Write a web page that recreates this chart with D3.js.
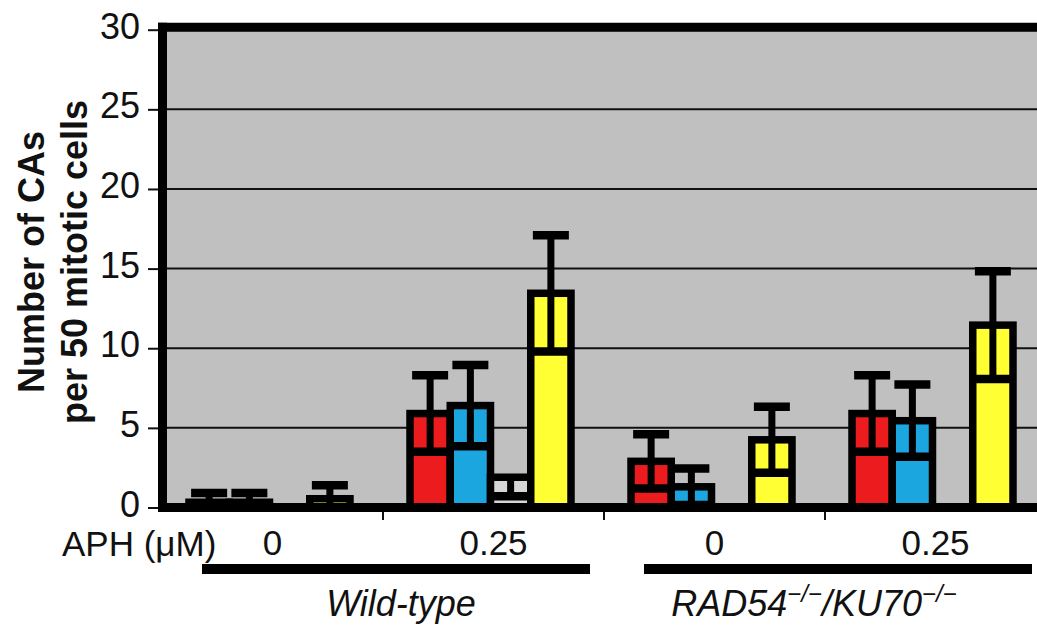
<!DOCTYPE html>
<html>
<head>
<meta charset="utf-8">
<script src="https://cdn.jsdelivr.net/npm/d3@7"></script>
<style>
  body { margin: 0; background: #fff; }
  svg { display: block; }
  text { font-family: "Liberation Sans", Arial, Helvetica, sans-serif; fill: #111; }
</style>
</head>
<body>
<svg id="chart" width="1037" height="632"></svg>
<script>
// Bar clusters: aphidicolin dose within each genotype
const clusterIds = ["wt-0", "wt-0.25", "dko-0", "dko-0.25"];
const aphDoses = ["0", "0.25", "0", "0.25"];
const genotypeNames = ["Wild-type", "RAD54/KU70"];
const genotypeClusters = [["wt-0", "wt-0.25"], ["dko-0", "dko-0.25"]];

// Aberration classes, one bar each per cluster
const seriesKeys = ["classA", "classB", "classC", "total"];

// Mean number of CAs per 50 mitotic cells and the SD of each mean
const classAMean = [0.33, 5.9, 2.9, 5.9];
const classASD   = [0.58, 2.4, 1.7, 2.4];
const classBMean = [0.33, 6.4, 1.3, 5.45];
const classBSD   = [0.58, 2.55, 1.15, 2.27];
const classCMean = [0, 1.9, 0, 0];
const classCSDDown = [0, 1.2, 0, 0];
const classCSDUp   = [0, 0, 0, 0];
const totalMean  = [0.55, 13.45, 4.25, 11.45];
const totalSD    = [0.85, 3.65, 2.07, 3.38];

const yTicks = [0, 5, 10, 15, 20, 25, 30];

// ---- styling ----
const colors = { classA: "#ec1c1e", classB: "#1ba6e0", classC: "#d6d6d6", total: "#ffff33" };
const plotBg = "#c0c0c0";

// Build rows: one entry per bar with lower / upper error bounds
const bars = [];
clusterIds.forEach((c, i) => {
  const push = (key, mean, down, up) =>
    bars.push({ cluster: c, key, mean, lo: Math.max(0, mean - down), hi: mean + up });
  push("classA", classAMean[i], classASD[i], classASD[i]);
  push("classB", classBMean[i], classBSD[i], classBSD[i]);
  push("classC", classCMean[i], classCSDDown[i], classCSDUp[i]);
  push("total",  totalMean[i],  totalSD[i],  totalSD[i]);
});

const svg = d3.select("#chart");

const plotLeft = 162, plotRight = 1046;
const y = d3.scaleLinear().domain([0, 30]).range([507.5, 29.7]);
const x0 = d3.scaleBand().domain(clusterIds).range([plotLeft, plotRight]);
const x1 = d3.scaleBand().domain(seriesKeys).range([27, 27 + 161]);
const bw = x1.bandwidth();

// plot background
svg.append("rect")
  .attr("x", plotLeft).attr("y", y(30))
  .attr("width", plotRight - plotLeft).attr("height", y(0) - y(30))
  .attr("fill", plotBg);

// horizontal gridlines
svg.append("g").selectAll("line")
  .data(yTicks.filter(t => t > 0 && t < 30))
  .join("line")
  .attr("x1", plotLeft).attr("x2", plotRight)
  .attr("y1", d => y(d)).attr("y2", d => y(d))
  .attr("stroke", "#111").attr("stroke-width", 2);

// bars
const barG = svg.append("g");
barG.selectAll("rect")
  .data(bars.filter(d => d.mean > 0))
  .join("rect")
  .attr("x", d => x0(d.cluster) + x1(d.key))
  .attr("y", d => y(d.mean))
  .attr("width", bw)
  .attr("height", d => y(0) - y(d.mean))
  .attr("fill", d => colors[d.key])
  .attr("stroke", "#000")
  .attr("stroke-width", 7.5);

// error bars (vertical stem + wide caps)
const capW = 36;
const errG = svg.append("g");
const withErr = bars.filter(d => d.hi > d.lo);
errG.selectAll("line.stem")
  .data(withErr)
  .join("line")
  .attr("class", "stem")
  .attr("x1", d => x0(d.cluster) + x1(d.key) + bw / 2)
  .attr("x2", d => x0(d.cluster) + x1(d.key) + bw / 2)
  .attr("y1", d => y(d.lo)).attr("y2", d => y(d.hi))
  .attr("stroke", "#000").attr("stroke-width", 7);
const caps = [];
withErr.forEach(d => {
  if (d.lo < d.mean) caps.push({ d, v: d.lo });
  if (d.hi > d.mean) caps.push({ d, v: d.hi });
});
errG.selectAll("line.cap")
  .data(caps)
  .join("line")
  .attr("class", "cap")
  .attr("x1", c => x0(c.d.cluster) + x1(c.d.key) + bw / 2 - capW / 2)
  .attr("x2", c => x0(c.d.cluster) + x1(c.d.key) + bw / 2 + capW / 2)
  .attr("y1", c => y(c.v)).attr("y2", c => y(c.v))
  .attr("stroke", "#000").attr("stroke-width", 8.5);

// frame: top border, left axis line, baseline
svg.append("line").attr("x1", 158).attr("x2", plotRight)
  .attr("y1", 27.2).attr("y2", 27.2).attr("stroke", "#000").attr("stroke-width", 9);
svg.append("line").attr("x1", 162.5).attr("x2", 162.5)
  .attr("y1", 22.7).attr("y2", 512).attr("stroke", "#000").attr("stroke-width", 9);
svg.append("line").attr("x1", 158).attr("x2", plotRight)
  .attr("y1", y(0)).attr("y2", y(0)).attr("stroke", "#000").attr("stroke-width", 9);

// y axis ticks and labels
const yAxis = d3.axisLeft(y).tickValues(yTicks).tickSize(10).tickPadding(8);
const yG = svg.append("g").attr("transform", "translate(158,0)").call(yAxis);
yG.select(".domain").remove();
yG.selectAll(".tick line").attr("stroke", "#111").attr("stroke-width", 2);
yG.selectAll(".tick text")
  .attr("font-size", 36).attr("dy", "0.24em")
  .style("font-family", "'Liberation Sans', Arial, sans-serif").attr("fill", "#111");

// y axis title (two lines)
const titleCy = 262;
const yTitle = svg.append("text")
  .attr("transform", `translate(44,${titleCy}) rotate(-90)`)
  .attr("text-anchor", "middle").attr("font-size", 36).attr("font-weight", "bold");
yTitle.append("tspan").attr("x", 0).attr("y", 0).text("Number of CAs");
yTitle.append("tspan").attr("x", 0).attr("y", 43).text("per 50 mitotic cells");

// x axis: boundary ticks between clusters
svg.append("g").selectAll("line")
  .data(clusterIds.slice(1))
  .join("line")
  .attr("x1", d => x0(d)).attr("x2", d => x0(d))
  .attr("y1", 512).attr("y2", 520)
  .attr("stroke", "#111").attr("stroke-width", 2);

// x axis: dose labels centred under each cluster
const xAxis = d3.axisBottom(x0).tickSize(0).tickPadding(18)
  .tickFormat((d, i) => aphDoses[i]);
const xG = svg.append("g").attr("transform", "translate(0,512)").call(xAxis);
xG.select(".domain").remove();
xG.selectAll(".tick text")
  .attr("font-size", 35)
  .style("font-family", "'Liberation Sans', Arial, sans-serif").attr("fill", "#111");

svg.append("text")
  .attr("x", 62).attr("y", 556)
  .attr("font-size", 35)
  .text("APH (μM)");

// genotype brackets
const bracketInsetL = 40, bracketInsetR = 14;
const labelShift = [5, -24];
genotypeClusters.forEach((cl, gi) => {
  const xa = x0(cl[0]) + bracketInsetL;
  const xb = x0(cl[cl.length - 1]) + x0.bandwidth() - bracketInsetR;
  svg.append("rect")
    .attr("x", xa).attr("y", 564)
    .attr("width", xb - xa).attr("height", 10)
    .attr("fill", "#000");
  const t = svg.append("text")
    .attr("x", (xa + xb) / 2 + labelShift[gi]).attr("y", 616)
    .attr("text-anchor", "middle")
    .attr("font-size", 36).attr("font-style", "italic");
  if (gi === 0) {
    t.text(genotypeNames[0]);
  } else {
    const [g1, g2] = genotypeNames[1].split("/");
    t.append("tspan").text(g1);
    t.append("tspan").attr("font-size", 24).attr("dy", -14).text("−/−");
    t.append("tspan").attr("dy", 14).text("/" + g2);
    t.append("tspan").attr("font-size", 24).attr("dy", -14).text("−/−");
  }
});
</script>
</body>
</html>
